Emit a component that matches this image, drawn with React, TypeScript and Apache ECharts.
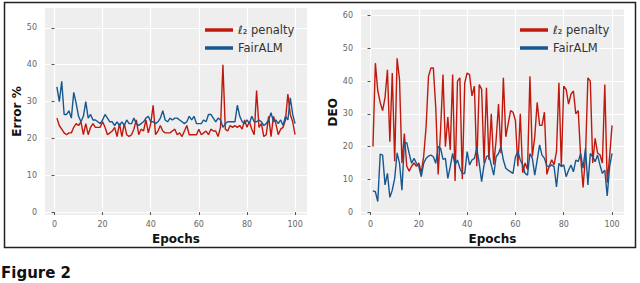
import React, { useEffect, useRef } from 'react';
import * as echarts from 'echarts';

// Epoch index (x values)
const epochs: number[] = Array.from({ length: 100 }, (_, i) => i + 1);

// Left panel: Error %
const errL2: number[] = [
  25.5, 23.5, 22.5, 21.5, 21, 21.5, 21.5, 23, 24, 23.5,
  24.5, 21, 24, 21, 23, 24, 23, 23, 23, 24.5,
  23, 21, 21.5, 22, 23, 20.5, 24, 20.5, 24, 21,
  20.5, 21, 22.5, 25, 21, 22.5, 22, 25, 21.5, 24,
  29, 21, 22, 23.5, 22, 21.5, 21.5, 21.5, 22, 22.5,
  21, 21.5, 20.5, 22, 23.5, 21, 21, 21, 21, 22.5,
  21, 21.5, 22, 21, 22.5, 22, 22, 20.5, 23, 40,
  22.5, 22, 23.5, 23, 23.5, 23, 23.5, 22.5, 25, 23,
  24.5, 22.5, 21, 33, 23, 24, 20.5, 21, 26, 20.5,
  26, 24, 21, 22.5, 23, 25, 32, 26.5, 24.5, 21,
];
const errFairALM: number[] = [
  34, 30, 35.5, 26.5, 26.5, 27.5, 25.5, 32.5, 29.5, 26,
  24.5, 26, 30, 25.5, 26.5, 25, 25, 24.5, 24, 25,
  26.5, 25.5, 24.5, 24.5, 23.5, 24.5, 23.5, 24.5, 23.5, 25,
  24, 24, 25.5, 24, 23.5, 24, 24.5, 25.5, 26, 24.5,
  24.5, 24, 24.5, 25.5, 27.5, 25, 24.5, 25.5, 25, 25.5,
  25.5, 25, 24.5, 24, 24.5, 26, 25, 26, 24, 24,
  24, 25, 24.5, 26.5, 26.5, 25.5, 24.5, 25.5, 25, 23,
  24, 24.5, 24.5, 24.5, 24.5, 29, 26, 24.5, 24, 25,
  24, 26, 24.5, 24.5, 25, 24.5, 23.5, 24, 25, 27,
  24.5, 25, 24, 25, 23.5, 26, 25, 31, 26.5, 24,
];

// Right panel: DEO
const deoL2: number[] = [
  20, 45.5, 37, 33.5, 31, 35, 43.5, 21.5, 42.5, 15.5,
  47, 40.5, 15, 24, 14, 12.5, 14, 15, 14, 15,
  12, 17, 26, 41.5, 44, 44, 32, 11.5, 25, 42,
  20, 29, 19, 42, 9.5, 40, 41, 10, 39.5, 42.5,
  42, 35.5, 38.5, 14, 39, 37.5, 15, 38, 16, 30,
  14.5, 22, 33, 18, 41, 23, 27, 31, 30.5, 28,
  14, 30, 12, 15, 13, 41.5, 17, 23, 33.5, 26.5,
  26.5, 30.5, 11.5, 14, 16, 14.5, 18.5, 39.5, 14, 38.5,
  37.5, 33, 36, 37, 30, 31, 17, 7.5, 17, 41,
  40, 15, 22.5, 18, 17.5, 15, 39, 9, 17, 26.5,
];
const deoFairALM: number[] = [
  6.5, 6.2, 3.2, 17.7, 17.4, 8.3, 11.8, 4.5, 6.7, 10.3,
  18.1, 14.9, 6.7, 21, 21.2, 17.9, 14.9, 16.4, 14.9, 13.9,
  10.8, 14.9, 16.4, 17.1, 17.4, 16.9, 14.9, 20, 19.5, 16.1,
  16.4, 10.3, 13.9, 17.9, 14.4, 15.9, 13.4, 11.8, 11.8, 18.5,
  14.4, 15.9, 16.4, 19.5, 14.9, 9.3, 14.4, 16.9, 17.4, 14.4,
  11.3, 16.9, 17.9, 20, 15.9, 13.4, 12.8, 12.3, 11.8, 16.9,
  18.5, 15.9, 14.4, 11.8, 11.3, 17.9, 16.4, 11.3, 15.9, 20.5,
  17.4, 16.4, 14.1, 13.9, 14.4, 13.9, 7.7, 14.9, 13.9, 14.4,
  10.8, 12.8, 14.4, 12.3, 15.9, 15.4, 17.9, 13.4, 19.5, 8.3,
  17.9, 16.9, 15.4, 17.4, 14.4, 11.8, 12.8, 4.9, 13.9, 17.9,
];

const xTicks = [0, 20, 40, 60, 80, 100];
const errTicks = [0, 10, 20, 30, 40, 50];
const deoTicks = [0, 10, 20, 30, 40, 50, 60];

const L2_NAME = 'ℓ₂ penalty';
const ALM_NAME = 'FairALM';
const RED = '#c0180c';
const BLUE = '#19588f';

const pair = (vals: number[]) => vals.map((v, i) => [epochs[i], v]);

export default function App() {
  const ref = useRef<HTMLDivElement>(null);
  useEffect(() => {
    document.body.style.margin = '0';
    const chart = echarts.init(ref.current!, null, { renderer: 'svg' });
    const tickFont = { fontSize: 8, color: '#666', fontFamily: 'DejaVu Sans' };
    const nameFont = { fontFamily: 'DejaVu Sans', fontWeight: 'bold' as const, fontSize: 12, color: '#111' };
    const xAxis = (gridIndex: number) => ({
      type: 'value', gridIndex, min: -3.95, max: 104.95,
      name: 'Epochs', nameLocation: 'middle', nameGap: 15, nameTextStyle: nameFont,
      axisLine: { show: false },
      axisTick: { show: true, length: 3, customValues: xTicks, lineStyle: { color: '#555' } },
      axisLabel: { ...tickFont, customValues: xTicks, margin: 5 },
      splitLine: { show: true, lineStyle: { color: '#ffffff', width: 1.2 } },
    });
    const yAxis = (gridIndex: number, name: string, min: number, max: number, ticks: number[]) => ({
      type: 'value', gridIndex, min, max,
      name, nameLocation: 'middle', nameGap: 22, nameTextStyle: nameFont,
      axisLine: { show: false },
      axisTick: { show: true, length: 3, customValues: ticks, lineStyle: { color: '#555' } },
      axisLabel: { ...tickFont, customValues: ticks, margin: 8 },
      splitLine: { show: true, lineStyle: { color: '#ffffff', width: 1.2 } },
    });
    const legend = (left: number) => ({
      left, top: 19, orient: 'vertical', data: [L2_NAME, ALM_NAME], icon: 'rect',
      itemWidth: 28, itemHeight: 3.5, itemGap: 6, selectedMode: false,
      textStyle: { fontSize: 11.5, color: '#333', fontFamily: 'DejaVu Sans' },
    });
    const line = (name: string, color: string, data: number[], idx: number) => ({
      type: 'line', name, xAxisIndex: idx, yAxisIndex: idx, data: pair(data),
      showSymbol: false, symbol: 'none', lineStyle: { color, width: 1.4 }, itemStyle: { color },
    });
    chart.setOption({
      animation: false,
      backgroundColor: '#ffffff',
      grid: [
        { left: 45, right: 333, top: 8, bottom: 68, show: true, backgroundColor: '#eeeeee', borderWidth: 0 },
        { left: 361, right: 16, top: 9.5, bottom: 68, show: true, backgroundColor: '#eeeeee', borderWidth: 0 },
      ],
      xAxis: [xAxis(0), xAxis(1)],
      yAxis: [
        yAxis(0, 'Error %', -0.8, 55.4, errTicks),
        yAxis(1, 'DEO', -0.9, 61.9, deoTicks),
      ],
      legend: [legend(200), legend(515)],
      series: [
        line(L2_NAME, RED, errL2, 0),
        line(ALM_NAME, BLUE, errFairALM, 0),
        line(L2_NAME, RED, deoL2, 1),
        line(ALM_NAME, BLUE, deoFairALM, 1),
      ],
      graphic: [
        { type: 'rect', shape: { x: 4.5, y: 2.5, width: 631, height: 245 }, style: { fill: 'none', stroke: '#222', lineWidth: 1.5 }, silent: true },
        { type: 'text', left: 1, top: 265, style: { text: 'Figure 2', font: 'bold 15px "DejaVu Sans"', fill: '#111' } },
      ],
    });
    return () => chart.dispose();
  }, []);
  return <div ref={ref} style={{ width: 640, height: 283, background: '#fff' }} />;
}
